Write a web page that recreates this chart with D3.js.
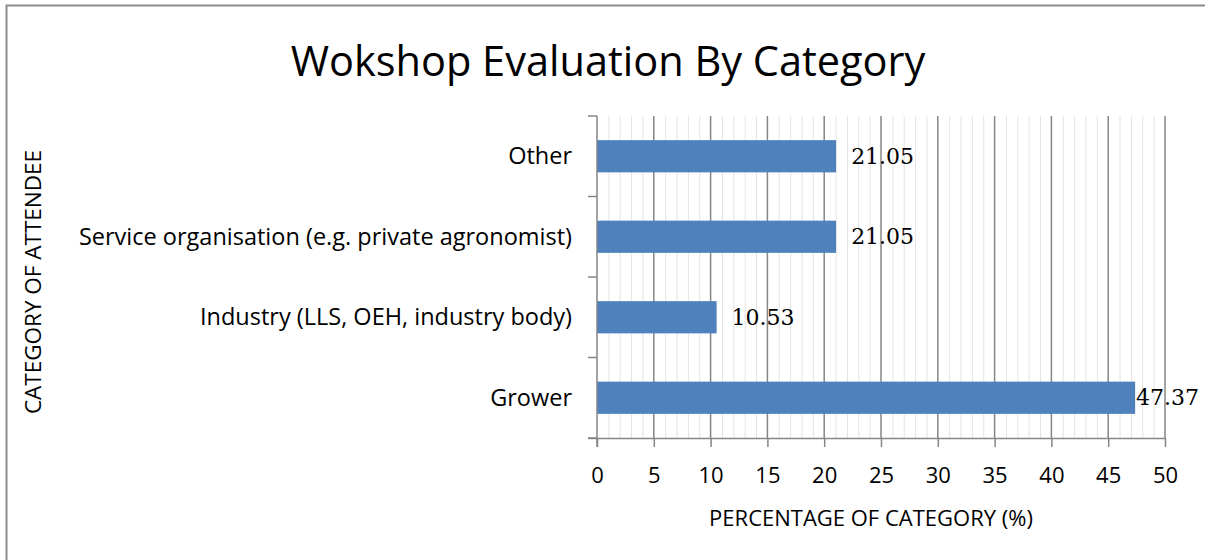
<!DOCTYPE html>
<html>
<head>
<meta charset="utf-8">
<script src="https://cdn.jsdelivr.net/npm/d3@7"></script>
<style>
  body { margin: 0; background: #fff; }
  svg { display: block; }
</style>
</head>
<body>
<svg width="1205" height="560"></svg>
<script>
// chart data
const categories = ['Other', 'Service organisation (e.g. private agronomist)', 'Industry (LLS, OEH, industry body)', 'Grower'];
const percentages = [21.05, 21.05, 10.53, 47.37];
const xTicks = [0, 5, 10, 15, 20, 25, 30, 35, 40, 45, 50];

const svg = d3.select('svg');
const plotLeft = 597, plotRight = 1165, plotTop = 116, plotBottom = 438;
const sansFont = '"Open Sans", "Noto Sans", sans-serif';

// outer chart border (only top and left show in the crop)
svg.append('path')
  .attr('d', 'M6.5,560 V5.5 H1205')
  .attr('fill', 'none')
  .attr('stroke', '#8c8c8c')
  .attr('stroke-width', 2);

const x = d3.scaleLinear().domain([0, 50]).range([plotLeft, plotRight]);
const y = d3.scaleBand().domain(categories).range([plotTop, plotBottom]).paddingInner(0.6).paddingOuter(0.3);

// minor gridlines every 1
svg.append('g').selectAll('line')
  .data(d3.range(1, 51).filter(d => d % 5 !== 0))
  .join('line')
  .attr('x1', d => x(d) + 0.5).attr('x2', d => x(d) + 0.5)
  .attr('y1', plotTop).attr('y2', plotBottom)
  .attr('stroke', '#e3e3e3').attr('stroke-width', 1);

// major gridlines every 5
svg.append('g').selectAll('line')
  .data(xTicks.slice(1))
  .join('line')
  .attr('x1', d => x(d)).attr('x2', d => x(d))
  .attr('y1', plotTop).attr('y2', plotBottom)
  .attr('stroke', '#868686').attr('stroke-width', 1.5);

// bars
svg.append('g').selectAll('rect')
  .data(percentages)
  .join('rect')
  .attr('x', x(0))
  .attr('y', (d, i) => y(categories[i]))
  .attr('width', d => x(d) - x(0))
  .attr('height', y.bandwidth())
  .attr('fill', '#4f81bd');

// value labels (pushed back when they would run off the right edge)
svg.append('g').selectAll('text')
  .data(percentages)
  .join('text')
  .attr('x', d => Math.min(x(d) + 15, 1136))
  .attr('y', (d, i) => y(categories[i]) + y.bandwidth() / 2)
  .attr('dy', '0.35em')
  .attr('font-family', '"DejaVu Serif", "Liberation Serif", serif')
  .attr('font-size', 22)
  .attr('fill', '#000')
  .text(d => d.toFixed(2));

// x axis
const xAxis = svg.append('g')
  .attr('transform', `translate(0,${plotBottom})`)
  .call(d3.axisBottom(x).tickValues(xTicks).tickSize(9).tickPadding(20));
xAxis.select('.domain').attr('stroke', '#868686').attr('stroke-width', 1.5).attr('d', `M${plotLeft - 9},0.5H${plotRight}`);
xAxis.selectAll('.tick line').attr('stroke', '#868686').attr('stroke-width', 1.5);
xAxis.selectAll('text').attr('font-family', sansFont).attr('font-size', 22).attr('fill', '#000');

// y axis (category boundaries as ticks)
const bounds = d3.range(categories.length + 1).map(i => plotTop + i * (plotBottom - plotTop) / categories.length);
svg.append('line')
  .attr('x1', plotLeft).attr('x2', plotLeft).attr('y1', plotTop).attr('y2', plotBottom + 9)
  .attr('stroke', '#868686').attr('stroke-width', 1.5);
svg.append('g').selectAll('line')
  .data(bounds)
  .join('line')
  .attr('x1', plotLeft - 9).attr('x2', plotLeft)
  .attr('y1', d => d).attr('y2', d => d)
  .attr('stroke', '#868686').attr('stroke-width', 1.5);

// category labels
svg.append('g').selectAll('text')
  .data(categories)
  .join('text')
  .attr('x', 572)
  .attr('y', d => y(d) + y.bandwidth() / 2)
  .attr('dy', '0.35em')
  .attr('text-anchor', 'end')
  .attr('font-family', sansFont)
  .attr('font-size', 23.5)
  .attr('fill', '#000')
  .text(d => d);

// titles
svg.append('text')
  .attr('x', 608).attr('y', 76)
  .attr('text-anchor', 'middle')
  .attr('font-family', sansFont)
  .attr('font-size', 41.5)
  .text('Wokshop Evaluation By Category');

svg.append('text')
  .attr('x', 871).attr('y', 526)
  .attr('text-anchor', 'middle')
  .attr('font-family', sansFont)
  .attr('font-size', 22)
  .text('PERCENTAGE OF CATEGORY (%)');

svg.append('text')
  .attr('transform', 'translate(41,282) rotate(-90)')
  .attr('text-anchor', 'middle')
  .attr('font-family', sansFont)
  .attr('font-size', 22.5)
  .text('CATEGORY OF ATTENDEE');
</script>
</body>
</html>
